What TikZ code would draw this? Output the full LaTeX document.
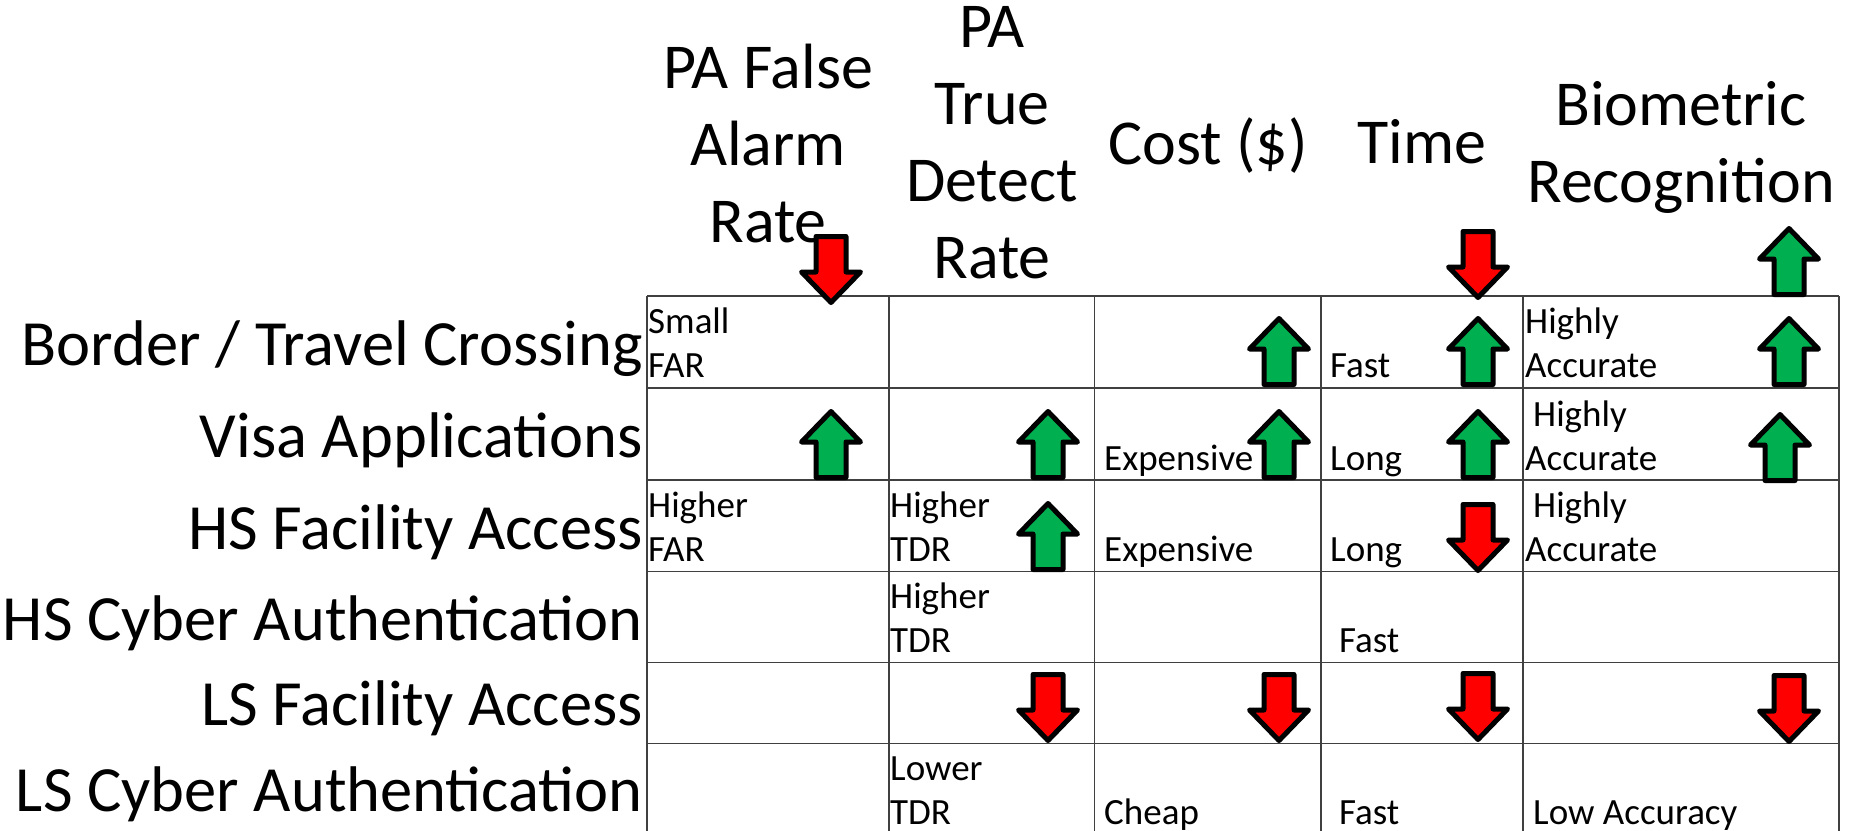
\documentclass[tikz,border=0pt]{standalone}
\usepackage{fontspec}
\setmainfont{Carlito}
\definecolor{upgreen}{HTML}{00B050}
\definecolor{downred}{HTML}{FF0000}
\definecolor{gridline}{HTML}{404040}
\tikzset{
  colhead/.style={font=\fontsize{64}{77}\selectfont, align=center, anchor=base, inner sep=0pt},
  rowlabel/.style={font=\fontsize{64.5}{77}\selectfont, anchor=base east, inner sep=0pt},
  celltext/.style={font=\fontsize{37}{44}\selectfont, align=left, anchor=base west, inner sep=0pt},
  gridrule/.style={draw=gridline, line width=1.2pt},
  blockarrow/.style={draw=black, line width=5pt, line join=round},
  % block arrow pointing up, placed at the centre of its bottom edge
  pics/uparr/.style={code={
    \path[blockarrow, fill=upgreen] (-15,-2.5) -- (-15,-38) -- (-29.5,-38) -- (0,-68.5)
      -- (29.5,-38) -- (15,-38) -- (15,-2.5) -- cycle;}},
  % block arrow pointing down, placed at the centre of its top edge
  pics/dnarr/.style={code={
    \path[blockarrow, fill=downred] (-15,2.5) -- (-15,38) -- (-29.5,38) -- (0,68.5)
      -- (29.5,38) -- (15,38) -- (15,2.5) -- cycle;}}
}
\begin{document}
\begin{tikzpicture}[x=1pt, y=-1pt]
\useasboundingbox (0,0) rectangle (1849,830);

% column headings (positioned by the baseline of their last line)
\node[colhead] (hfar)  at (768, 242)  {PA False\\Alarm\\Rate};
\node[colhead] (htdr)  at (992, 278)  {PA\\True\\Detect\\Rate};
\node[colhead] (hcost) at (1208, 164) {Cost (\$)};
\node[colhead] (htime) at (1422, 163) {Time};
\node[colhead] (hbio)  at (1681, 202) {Biometric\\Recognition};

% row labels
\node[rowlabel] (rborder) at (643, 365.5) {Border / Travel Crossing};
\node[rowlabel] (rvisa)   at (643, 457.5) {Visa Applications};
\node[rowlabel] (rhsfac)  at (643, 549.5) {HS Facility Access};
\node[rowlabel] (rhscyb)  at (643, 640)   {HS Cyber Authentication};
\node[rowlabel] (rlsfac)  at (643, 725)   {LS Facility Access};
\node[rowlabel] (rlscyb)  at (643, 811)   {LS Cyber Authentication};

% table grid
\foreach \yy in {296, 388, 480, 571.5, 662.7, 743.3}
  \draw[gridrule] (647,\yy) -- (1839,\yy);
\foreach \xx in {647, 889, 1094.5, 1321, 1523, 1839}
  \draw[gridrule] (\xx,296) -- (\xx,832);

% cell texts (positioned by the baseline of their last line)
\node[celltext] (c11) at (648, 377)    {Small\\FAR};
\node[celltext] (c14) at (1330, 377)   {Fast};
\node[celltext] (c15) at (1525, 377)   {Highly\\Accurate};
\node[celltext] (c23) at (1104, 470)   {Expensive};
\node[celltext] (c24) at (1330, 470)   {Long};
\node[celltext] (c25) at (1525, 470)   {\hspace*{8pt}Highly\\Accurate};
\node[celltext] (c31) at (648, 561)    {Higher\\FAR};
\node[celltext] (c32) at (890, 561)    {Higher\\TDR};
\node[celltext] (c33) at (1104, 561)   {Expensive};
\node[celltext] (c34) at (1330, 561)   {Long};
\node[celltext] (c35) at (1525, 561)   {\hspace*{8pt}Highly\\Accurate};
\node[celltext] (c42) at (890, 652.5)  {Higher\\TDR};
\node[celltext] (c44) at (1339, 652.5) {Fast};
\node[celltext] (c62) at (890, 824)    {Lower\\TDR};
\node[celltext] (c63) at (1104, 824)   {Cheap};
\node[celltext] (c64) at (1339, 824)   {Fast};
\node[celltext] (c65) at (1533, 824)   {Low Accuracy};

% trend arrows above the table
\pic (afar)  at (831, 234)  {dnarr};
\pic (atime) at (1478, 229) {dnarr};
\pic (abio)  at (1789, 297) {uparr};

% Border / Travel Crossing
\pic (a13) at (1279, 387) {uparr};
\pic (a14) at (1478, 387) {uparr};
\pic (a15) at (1789, 387) {uparr};
% Visa Applications
\pic (a21) at (831, 480)  {uparr};
\pic (a22) at (1048, 480) {uparr};
\pic (a23) at (1279, 480) {uparr};
\pic (a24) at (1478, 480) {uparr};
\pic (a25) at (1780, 483) {uparr};
% HS Facility Access
\pic (a32) at (1048, 572) {uparr};
\pic (a34) at (1478, 502) {dnarr};
% LS Facility Access
\pic (a52) at (1048, 672) {dnarr};
\pic (a53) at (1279, 672) {dnarr};
\pic (a54) at (1478, 671) {dnarr};
\pic (a55) at (1789, 673) {dnarr};
\end{tikzpicture}
\end{document}
